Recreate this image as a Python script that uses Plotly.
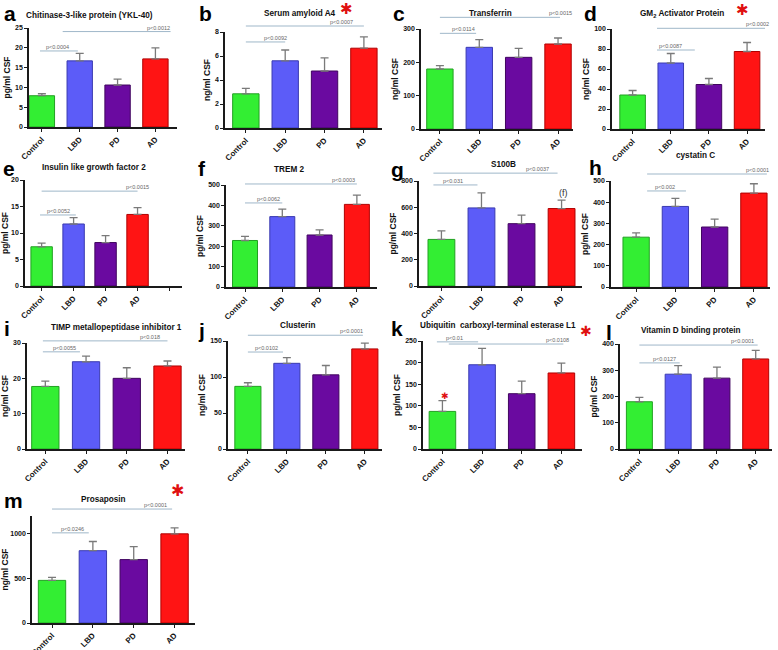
import plotly.graph_objects as go

W, H = 778, 650

# ---------------- data ----------------
categories = ["Control", "LBD", "PD", "AD"]
bar_colors = ["#33ee33", "#5c5cf8", "#6a0aa0", "#ff1414"]
edge_colors = ["#22a022", "#3a3ab0", "#40065f", "#b00000"]

a_means = [7.9, 16.7, 10.6, 17.2]
a_upper = [8.4, 18.6, 12.1, 20.0]
b_means = [2.85, 5.6, 4.75, 6.65]
b_upper = [3.3, 6.5, 5.85, 7.6]
c_means = [180, 245, 215, 255]
c_upper = [190, 268, 242, 273]
d_means = [34, 66, 44.5, 77.5]
d_upper = [38.5, 75.5, 50.5, 86.5]
e_means = [7.4, 11.7, 8.2, 13.5]
e_upper = [8.1, 12.9, 9.5, 14.8]
f_means = [228, 345, 255, 405]
f_upper = [248, 382, 280, 450]
g_means = [355, 595, 475, 590]
g_upper = [420, 710, 540, 655]
h_means = [235, 380, 283, 443]
h_upper = [255, 418, 320, 487]
i_means = [17.7, 24.7, 20.0, 23.5]
i_upper = [19.2, 26.3, 23.0, 24.9]
j_means = [87, 119, 103, 139]
j_upper = [92, 127, 116, 147]
k_means = [87, 195, 128, 176]
k_upper = [112, 233, 157, 199]
l_means = [180, 285, 270, 343]
l_upper = [197, 318, 312, 376]
m_means = [478, 811, 711, 1000]
m_upper = [511, 914, 856, 1067]

a_ticks = [0, 5, 10, 15, 20, 25]
b_ticks = [0, 2, 4, 6, 8]
c_ticks = [0, 100, 200, 300]
d_ticks = [0, 20, 40, 60, 80, 100]
e_ticks = [0, 5, 10, 15, 20]
f_ticks = [0, 100, 200, 300, 400, 500]
g_ticks = [0, 200, 400, 600, 800]
h_ticks = [0, 100, 200, 300, 400, 500]
i_ticks = [0, 10, 20, 30]
j_ticks = [0, 50, 100, 150]
k_ticks = [0, 50, 100, 150, 200, 250]
l_ticks = [0, 100, 200, 300, 400]
m_ticks = [0, 500, 1000]
m_axis_top = 1200

titles = {
    "a": "Chitinase-3-like protein (YKL-40)",
    "b": "Serum amyloid A4",
    "c": "Transferrin",
    "d": "GM<sub>2</sub> Activator Protein",
    "e": "Insulin like growth factor 2",
    "f": "TREM 2",
    "g": "S100B",
    "h": "cystatin C",
    "i": "TIMP metallopeptidase inhibitor 1",
    "j": "Clusterin",
    "k": "Ubiquitin  carboxyl-terminal esterase L1",
    "l": "Vitamin D binding protein",
    "m": "Prosaposin",
}
ylabels = {
    "a": "pg/ml CSF", "b": "ng/ml CSF", "c": "ng/ml CSF", "d": "ng/ml CSF",
    "e": "pg/ml CSF", "f": "pg/ml CSF", "g": "pg/ml CSF", "h": "pg/ml CSF",
    "i": "ng/ml CSF", "j": "ng/ml CSF", "k": "pg/ml CSF", "l": "pg/ml CSF",
    "m": "ng/ml CSF",
}
# significance brackets: (from category, to category, level, p text, text pos)
sig = {
    "a": [(-0.05, 0.95, 19.2, "p<0.0004", 0.42), (0.55, 3.4, 24.1, "p<0.0012", 3.07)],
    "b": [(0.0, 1.0, 7.17, "p<0.0092", 0.75), (0.0, 3.0, 8.5, "p<0.0007", 2.44)],
    "c": [(0.0, 0.92, 287, "p<0.0114", 0.59), (0.0, 3.05, 335, "p<0.0015", 3.05)],
    "d": [(0.64, 1.63, 79, "p<0.0087", 0.98), (0.64, 3.78, 100.7, "p<0.0002", 3.28)],
    "e": [(-0.05, 1.07, 13.4, "p<0.0052", 0.52), (0.0, 3.0, 17.9, "p<0.0015", 3.0)],
    "f": [(0.0, 1.0, 412, "p<0.0062", 0.62), (0.0, 3.0, 505, "p<0.0003", 2.63)],
    "g": [(-0.2, 0.9, 770, "p<0.031", 0.29), (-0.2, 2.9, 860, "p<0.0037", 2.39)],
    "h": [(0.28, 1.27, 453, "p<0.002", 0.74), (0.28, 3.33, 533, "p<0.0001", 3.08)],
    "i": [(-0.06, 0.85, 27.5, "p<0.0055", 0.48), (-0.06, 3.0, 30.6, "p<0.018", 2.57)],
    "j": [(0.0, 0.9, 134.7, "p<0.0102", 0.49), (0.0, 2.95, 158, "p<0.0001", 2.67)],
    "k": [(-0.14, 0.9, 248, "p<0.01", 0.31), (0.16, 3.05, 243, "p<0.0108", 2.89)],
    "l": [(0.0, 1.04, 328, "p<0.0127", 0.66), (0.0, 3.05, 396, "p<0.0001", 2.67)],
    "m": [(0.0, 0.9, 1011, "p<0.0246", 0.49), (0.0, 2.94, 1278, "p<0.0001", 2.53)],
}

data = {
    "a": (a_means, a_upper, a_ticks), "b": (b_means, b_upper, b_ticks),
    "c": (c_means, c_upper, c_ticks), "d": (d_means, d_upper, d_ticks),
    "e": (e_means, e_upper, e_ticks), "f": (f_means, f_upper, f_ticks),
    "g": (g_means, g_upper, g_ticks), "h": (h_means, h_upper, h_ticks),
    "i": (i_means, i_upper, i_ticks), "j": (j_means, j_upper, j_ticks),
    "k": (k_means, k_upper, k_ticks), "l": (l_means, l_upper, l_ticks),
    "m": (m_means, m_upper, m_ticks),
}
axis_top = {"m": m_axis_top}

# ---------------- layout geometry (pixels) ----------------
# left px, right px, x-range lo, hi, top px, bottom px
geom = {
    "a": (29, 177, -0.34, 3.57, 28, 127),
    "b": (225, 382, -0.53, 3.46, 32, 128),
    "c": (421, 573, -0.48, 3.38, 29, 129),
    "d": (612, 765, -0.54, 3.47, 29, 129),
    "e": (25, 182, -0.52, 4.39, 180, 286),
    "f": (226, 377, -0.51, 3.54, 185, 287),
    "g": (419, 582, -0.56, 3.51, 181, 286),
    "h": (611, 770, -0.64, 3.41, 181, 287),
    "i": (27, 185, -0.45, 3.43, 343, 449),
    "j": (228, 382, -0.51, 3.44, 341, 449),
    "k": (423, 582, -0.49, 3.52, 341, 449),
    "l": (620, 772, -0.50, 3.42, 344, 449),
    "m": (32, 195, -0.49, 3.50, 516, 623),
}
title_pos = {
    "a": (89, 15), "b": (300, 13), "c": (491, 13), "d": (682, 14),
    "e": (94, 167), "f": (289, 169), "g": (503, 164), "h": (695, 155),
    "i": (117, 327), "j": (298, 325), "k": (498, 325), "l": (690, 330),
    "m": (103, 499),
}
letter_pos = {
    "a": (2, 13), "b": (197, 13), "c": (391, 13), "d": (582, 13),
    "e": (1, 168), "f": (196, 168), "g": (389, 170), "h": (587, 167),
    "i": (2, 328), "j": (196, 330), "k": (389, 328), "l": (604, 332),
    "m": (2, 500),
}
stars = [(346, 9, 15), (742, 10, 15), (586, 331, 14), (177, 490, 16)]

FONT = "Liberation Sans, Arial, sans-serif"
fig = go.Figure()
annotations = []
shapes = []
layout_axes = {}

for n, key in enumerate("abcdefghijklm", start=1):
    means, upper, ticks = data[key]
    L, R, lo, hi, top, bot = geom[key]
    cats = categories + ([" "] if key == "e" else [])
    sfx = "" if n == 1 else str(n)
    xa, ya = f"x{sfx}", f"y{sfx}"
    errs = [u - m for u, m in zip(upper, means)]
    fig.add_trace(go.Bar(
        x=categories, y=means, xaxis=xa, yaxis=ya, width=0.67,
        marker=dict(color=bar_colors, line=dict(color=edge_colors, width=1)),
        error_y=dict(type="data", symmetric=False, array=errs,
                     arrayminus=[0] * len(errs), color="#7a7a7a",
                     thickness=1.3, width=4),
        showlegend=False, hoverinfo="skip",
    ))
    ymax = axis_top.get(key, ticks[-1])
    axkw = dict(showline=True, linecolor="#1a1a1a", linewidth=1.5,
                ticks="outside", ticklen=3, tickwidth=1.2, tickcolor="#1a1a1a",
                showgrid=False, zeroline=False, fixedrange=True, automargin=False)
    layout_axes[f"xaxis{sfx}"] = dict(
        domain=[L / W, R / W], range=[lo, hi], type="category",
        categoryorder="array", categoryarray=cats, tickmode="array",
        tickvals=cats, ticktext=cats,
        anchor=ya, tickangle=-45,
        tickfont=dict(family=FONT, size=8, color="#111", weight="bold"),
        **axkw)
    layout_axes[f"yaxis{sfx}"] = dict(
        domain=[1 - bot / H, 1 - top / H], range=[0, ymax], anchor=xa,
        tickvals=ticks, tickfont=dict(family=FONT, size=7, color="#111", weight="bold"),
        title=dict(text=ylabels[key], standoff=3,
                   font=dict(family=FONT, size=8.5, color="#111", weight="bold")),
        **axkw)
    # significance lines
    for x0, x1, lev, txt, tx in sig[key]:
        shapes.append(dict(type="line", xref=xa, yref=f"{ya} domain",
                           x0=x0, x1=x1, y0=lev / ymax, y1=lev / ymax,
                           line=dict(color="#9fb7c9", width=1)))
        annotations.append(dict(xref=xa, yref=f"{ya} domain", x=tx, y=lev / ymax,
                                text=txt, showarrow=False, yanchor="bottom", yshift=-1,
                                font=dict(family=FONT, size=5.5, color="#666")))
    # title
    cx, cy = title_pos[key]
    annotations.append(dict(xref="paper", yref="paper", x=cx / W, y=1 - cy / H,
                            text=titles[key], showarrow=False, xanchor="center",
                            yanchor="middle",
                            font=dict(family=FONT, size=8.2, color="#111", weight="bold")))
    lx, ly = letter_pos[key]
    annotations.append(dict(xref="paper", yref="paper", x=lx / W, y=1 - ly / H,
                            text=key, showarrow=False, xanchor="left", yanchor="middle",
                            font=dict(family=FONT, size=21, color="#000", weight="bold")))

# extra marks
annotations.append(dict(xref="x7", yref="y7", x=3.04, y=708, text="(f)", showarrow=False,
                        font=dict(family=FONT, size=9, color="#333")))
annotations.append(dict(xref="x11", yref="y11", x=0.06, y=122, text="✱", showarrow=False,
                        font=dict(family="DejaVu Sans", size=9, color="#e01010")))
for sx, sy, ss in stars:
    annotations.append(dict(xref="paper", yref="paper", x=sx / W, y=1 - sy / H,
                            text="✱", showarrow=False, xanchor="center", yanchor="middle",
                            font=dict(family="DejaVu Sans", size=ss, color="#e01010")))

fig.update_layout(width=W, height=H, margin=dict(l=0, r=0, t=0, b=0, pad=0, autoexpand=False),
                  paper_bgcolor="white", plot_bgcolor="white",
                  annotations=annotations, shapes=shapes, **layout_axes)
fig.update_xaxes(tickangle=-45)
fig.write_html("out.html", config={"displayModeBar": False},
               post_script="document.body.style.margin='0';document.body.style.overflow='hidden';")
